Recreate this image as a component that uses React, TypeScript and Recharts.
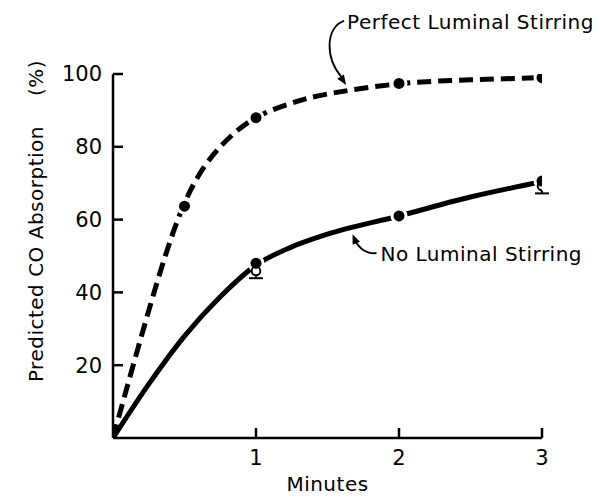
import React from 'react';
import { ComposedChart, Line, Scatter, XAxis, YAxis, ReferenceLine, ReferenceDot, Label } from 'recharts';

// Smooth model curve: perfect luminal stirring (minutes vs predicted CO absorption %)
const perfectMinutes = [0, 0.25, 0.5, 0.75, 1, 1.25, 1.5, 2, 2.5, 3];
const perfectCurve = [0, 35, 64.5, 80, 88, 92, 94.5, 97.3, 98.4, 99];

// Smooth model curve: no luminal stirring
const noStirMinutes = [0, 0.25, 0.5, 0.75, 1, 1.25, 1.5, 2, 2.5, 3];
const noStirCurve = [0, 14.8, 28, 38.8, 47.5, 52.5, 56, 61, 66.2, 70.4];

// Plotted (filled) points
const perfectDotMinutes = [0.5, 1, 2, 3];
const perfectDots = [63.7, 88, 97.4, 99];
const noStirDotMinutes = [1, 2, 3];
const noStirDots = [48, 61, 70.6];

// Observed (open) points with lower error
const observedMinutes = [1, 3];
const observedMean = [45.9, 69.2];
const observedLow = [43.9, 67.2];

const xTicks = [1, 2, 3];
const yTicks = [20, 40, 60, 80, 100];

const FONT = 'DejaVu Sans';

const perfectData = perfectMinutes.map((m, i) => ({ m, v: perfectCurve[i] }));
const noStirData = noStirMinutes.map((m, i) => ({ m, v: noStirCurve[i] }));
const filledData = [
  ...perfectDotMinutes.map((m, i) => ({ m, v: perfectDots[i] })),
  ...noStirDotMinutes.map((m, i) => ({ m, v: noStirDots[i] })),
];
const openData = observedMinutes.map((m, i) => ({ m, v: observedMean[i], low: observedLow[i] }));

const Halo = (p: any) => <circle cx={p.cx} cy={p.cy} r={8.5} fill="#fff" />;
const Filled = (p: any) => <circle cx={p.cx} cy={p.cy} r={5.5} fill="#000" />;
const Open = (p: any) => (
  <circle cx={p.cx} cy={p.cy} r={4.3} fill="#fff" stroke="#000" strokeWidth={2} />
);

const ErrShape = (p: any) => (
  <g>
    <line x1={p.x1} y1={p.y1 + 4.5} x2={p.x2} y2={p.y2} stroke="#000" strokeWidth={2} />
    <line x1={p.x2 - 7} y1={p.y2} x2={p.x2 + 7} y2={p.y2} stroke="#000" strokeWidth={2} />
  </g>
);

const PerfectNote = (p: any) => {
  const { cx, cy } = p;
  return (
    <g>
      <path
        d={`M ${cx - 2} ${cy - 64} C ${cx - 20} ${cy - 58}, ${cx - 22} ${cy - 28}, ${cx - 4} ${cy - 7}`}
        fill="none"
        stroke="#000"
        strokeWidth={1.8}
      />
      <polygon
        points={`${cx},${cy} ${cx - 8.8},${cy - 6.1} ${cx - 2.2},${cy - 10.5}`}
        fill="#000"
      />
      <text x={cx + 1} y={cy - 56} fontSize={20} fontFamily={FONT} letterSpacing={0.5} fill="#000">
        Perfect Luminal Stirring
      </text>
    </g>
  );
};

const NoStirNote = (p: any) => {
  const { cx, cy } = p;
  return (
    <g>
      <path
        d={`M ${cx + 24} ${cy + 19} C ${cx + 12} ${cy + 20}, ${cx + 5} ${cy + 12}, ${cx + 2} ${cy + 5}`}
        fill="none"
        stroke="#000"
        strokeWidth={1.8}
      />
      <polygon
        points={`${cx},${cy} ${cx + 7.5},${cy + 7.7} ${cx + 0.1},${cy + 10.7}`}
        fill="#000"
      />
      <text x={cx + 28} y={cy + 27} fontSize={20} fontFamily={FONT} letterSpacing={0.5} fill="#000">
        No Luminal Stirring
      </text>
    </g>
  );
};

const YLabel = (props: any) => {
  const vb = props.viewBox || {};
  const x = 43;
  const y = vb.y + vb.height / 2 - 35;
  return (
    <text
      x={x}
      y={y}
      transform={`rotate(-90, ${x}, ${y})`}
      textAnchor="middle"
      fontSize={20}
      fontFamily={FONT}
      letterSpacing={0.5}
      fill="#000"
    >
      Predicted CO Absorption
      <tspan dx={30}>(%)</tspan>
    </text>
  );
};

export default function App() {
  return (
    <div style={{ position: 'absolute', left: 0, top: 0, width: 600, height: 497, background: '#fff' }}>
      <ComposedChart width={600} height={497} margin={{ top: 74, right: 58, bottom: 29, left: 53 }}>
        <XAxis
          type="number"
          dataKey="m"
          domain={[0, 3]}
          ticks={xTicks}
          allowDataOverflow
          height={30}
          axisLine={{ stroke: '#000', strokeWidth: 2.5 }}
          tickLine={{ stroke: '#000', strokeWidth: 2.5 }}
          tickSize={-10}
          tickMargin={22}
          tick={{ fill: '#000', fontSize: 21, fontFamily: FONT }}
        >
          <Label value="Minutes" position="bottom" offset={9} fill="#000" fontSize={20} fontFamily={FONT} letterSpacing={0.5} />
        </XAxis>
        <YAxis
          type="number"
          dataKey="v"
          domain={[0, 100]}
          ticks={yTicks}
          allowDataOverflow
          width={60}
          axisLine={{ stroke: '#000', strokeWidth: 2.5 }}
          tickLine={{ stroke: '#000', strokeWidth: 2.5 }}
          tickSize={-10}
          tickMargin={21}
          tick={{ fill: '#000', fontSize: 21, fontFamily: FONT }}
          label={{ content: YLabel }}
        />
        <Line
          data={perfectData}
          dataKey="v"
          type="natural"
          stroke="#000"
          strokeWidth={5}
          strokeDasharray="14 7"
          dot={false}
          activeDot={false}
          isAnimationActive={false}
        />
        <Line
          data={noStirData}
          dataKey="v"
          type="monotone"
          stroke="#000"
          strokeWidth={5}
          dot={false}
          activeDot={false}
          isAnimationActive={false}
        />
        <Scatter data={filledData} dataKey="v" shape={Halo} isAnimationActive={false} />
        {openData.map((d) => (
          <ReferenceLine
            key={`err-${d.m}`}
            segment={[{ x: d.m, y: d.v }, { x: d.m, y: d.low }]}
            shape={ErrShape}
          />
        ))}
        <Scatter data={openData} dataKey="v" shape={Open} isAnimationActive={false} />
        <Scatter data={filledData} dataKey="v" shape={Filled} isAnimationActive={false} />
        <ReferenceDot x={1.63} y={97} shape={PerfectNote} />
        <ReferenceDot x={1.675} y={56} shape={NoStirNote} />
      </ComposedChart>
    </div>
  );
}
